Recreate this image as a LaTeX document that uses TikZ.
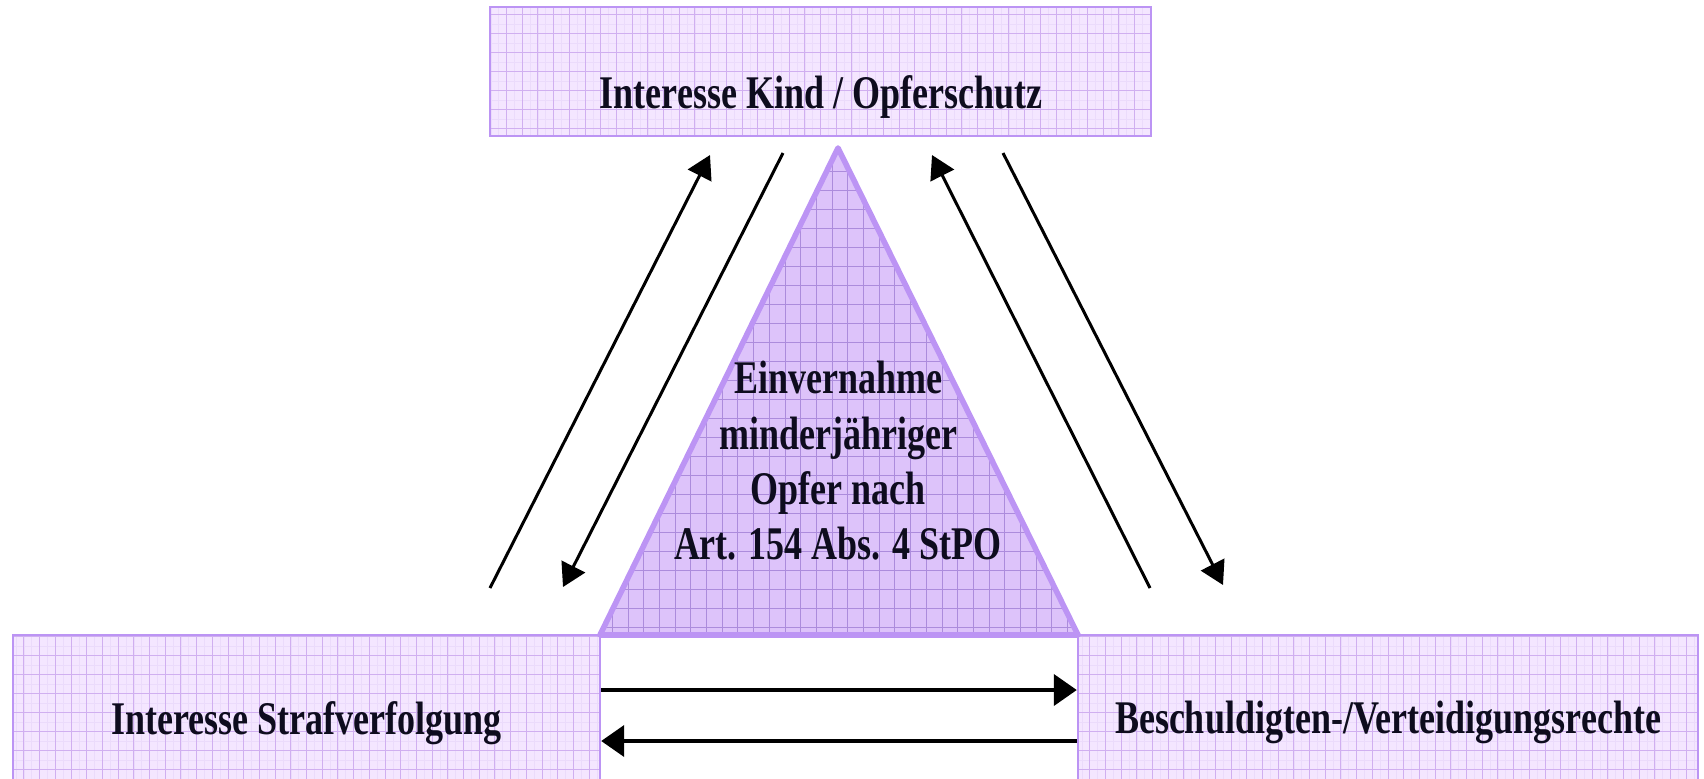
\documentclass[tikz,border=0pt]{standalone}
\usepackage{fontspec}
\setmainfont{Liberation Serif}
\usetikzlibrary{arrows.meta,calc}
\definecolor{boxfill}{HTML}{F4E6FF}
\definecolor{boxgrid}{HTML}{D0AFF0}
\definecolor{boxminor}{HTML}{EBDBFB}
\definecolor{trifill}{HTML}{DDC3FA}
\definecolor{trigrid}{HTML}{AC8CDC}
\definecolor{edge}{HTML}{BC94F4}
\definecolor{ink}{HTML}{0E0C1E}
\begin{document}
\begin{tikzpicture}[x=0.5pt,y=-0.5pt,
  gridbox/.style={draw=edge, line width=1.2pt, fill=boxfill, inner sep=0pt,
    path picture={
      \draw[boxminor, line width=0.3pt] (path picture bounding box.south west) grid[xstep=3.925pt,ystep=4.75pt] (path picture bounding box.north east);
      \draw[boxgrid, line width=0.45pt] (path picture bounding box.south west) grid[xstep=7.85pt,ystep=9.5pt] (path picture bounding box.north east);}},
  tribox/.style={draw=edge, line width=2.8pt, line join=round, fill=trifill,
    path picture={
      \draw[trigrid, line width=0.5pt] (path picture bounding box.south west) grid[xstep=7.85pt,ystep=9.5pt] (path picture bounding box.north east);}},
  lbl/.style={inner sep=0pt, anchor=base, text=ink, font=\fontsize{18}{21.2}\selectfont\bfseries},
  arr/.style={-{Triangle[length=11.5pt,width=13pt]}, line width=1.5pt, black},
  harr/.style={-{Triangle[length=11.5pt,width=15.5pt]}, line width=2pt, black}]
\useasboundingbox (0,0) rectangle (1704,778);
\clip (0,0) rectangle (1704,778);
% boxes
\node[gridbox, minimum width=330.5pt, minimum height=64.5pt] (kind) at (820.5,71.5) {};
\node[gridbox, minimum width=293.5pt, minimum height=77.5pt] (sv) at (306.5,712.5) {};
\node[gridbox, minimum width=310pt, minimum height=77.5pt] (bv) at (1388,712.5) {};
% triangle
\coordinate (tl) at (600,635);
\coordinate (tt) at (838,148);
\coordinate (tr) at (1078,635);
\path[tribox] (tl) -- (tt) -- (tr) -- cycle;
% diagonal arrows
\coordinate (a0) at (490,588);  \coordinate (a1) at (710,155);
\coordinate (b0) at (783,153);  \coordinate (b1) at (563,587);
\coordinate (c0) at (1150,588); \coordinate (c1) at (932,155);
\coordinate (d0) at (1003,153); \coordinate (d1) at (1223,585);
\draw[arr] (a0) -- (a1);
\draw[arr] (b0) -- (b1);
\draw[arr] (c0) -- (c1);
\draw[arr] (d0) -- (d1);
% horizontal arrows
\draw[harr] ($(sv.east)+(0,-22.5)$) -- ($(bv.west)+(0,-22.5)$);
\draw[harr] ($(bv.west)+(0,28.5)$) -- ($(sv.east)+(0,28.5)$);
% texts
\node[lbl] (kindtxt) at (821,108) {\scalebox{1}[1.3]{Interesse Kind / Opferschutz}};
\node[lbl] (svtxt) at (306.5,734) {\scalebox{1}[1.3]{Interesse Strafverfolgung}};
\node[lbl] (bvtxt) at (1388,733) {\scalebox{1}[1.3]{Beschuldigten-/Verteidigungsrechte}};
\node[lbl, anchor=center] (tritxt) at (838,465.6) {\scalebox{1}[1.3]{\begin{tabular}{@{}c@{}}Einvernahme\\minderjähriger\\Opfer nach\\Art. 154 Abs. 4 StPO\end{tabular}}};
\end{tikzpicture}
\end{document}
